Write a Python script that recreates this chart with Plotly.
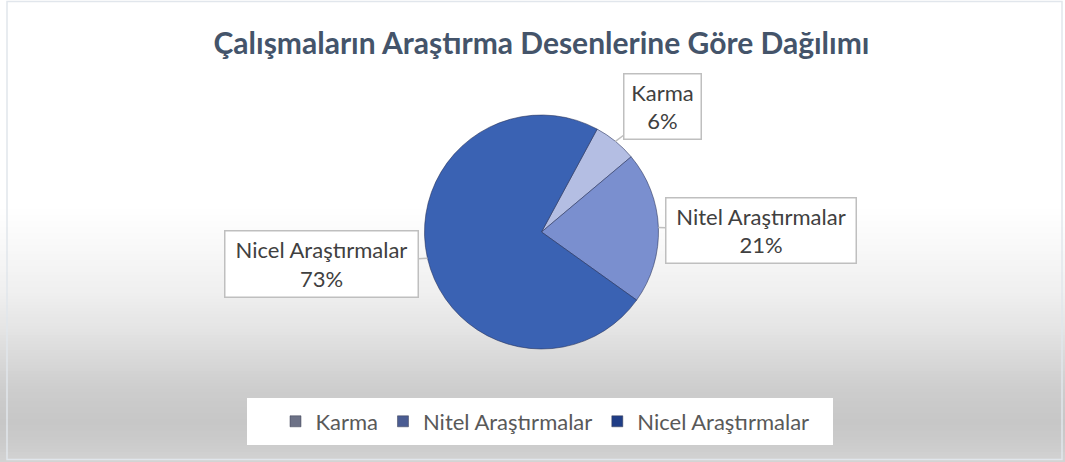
import math
import plotly.graph_objects as go

# ---- data ----
categories = ["Karma", "Nitel Araştırmalar", "Nicel Araştırmalar"]
values = [6, 21, 73]
title_text = "Çalışmaların Araştırma Desenlerine Göre Dağılımı"

# ---- style ----
W, H = 1065, 462
slice_colors = ["#b4bee3", "#7a8fcf", "#3a62b3"]
legend_colors = ["#6d7287", "#4a5c92", "#1f3d86"]
FONT = "Lato"
TEXT_COL = "#404040"
ROT = 28.4
CX, CY, R = 541.5, 232.0, 117.0
# label box centres (px) and sizes
boxes = [(662, 106.5, 79, 67), (761, 230, 192, 67), (321.5, 263.5, 195, 68)]


def px(x):
    return x / W


def py(y):
    return 1 - y / H


fig = go.Figure()

fig.add_trace(go.Pie(
    labels=categories, values=values, sort=False, direction="clockwise",
    rotation=ROT, textinfo="none", hoverinfo="label+percent",
    marker=dict(colors=slice_colors, line=dict(color="rgba(35,45,85,0.55)", width=1)),
    domain=dict(x=[px(CX - R), px(CX + R)], y=[py(CY + R), py(CY - R)]),
    showlegend=False,
))

for name, col in zip(categories, legend_colors):
    fig.add_trace(go.Scatter(
        x=[None], y=[None], mode="markers", name=name,
        marker=dict(symbol="square", size=11, color=col,
                    line=dict(color="#3a3f52", width=0.5)),
    ))

# gradient background
stops = [(0, 255), (205, 255), (237, 250), (263, 245), (290, 240), (303, 236),
         (330, 228), (360, 216), (390, 205), (420, 199), (435, 201), (447, 205),
         (462, 211)]
shapes = []
step = 3
y = 200
while y < H:
    yc = y + step / 2
    for (y0, g0), (y1, g1) in zip(stops[:-1], stops[1:]):
        if y0 <= yc <= y1:
            g = g0 + (g1 - g0) * (yc - y0) / (y1 - y0)
            break
    else:
        g = stops[-1][1]
    g = int(round(g))
    shapes.append(dict(type="rect", xref="paper", yref="paper", layer="below",
                       x0=0, x1=1, y0=py(min(y + step, H)), y1=py(y),
                       fillcolor=f"rgb({g},{g},{g})", line=dict(width=0)))
    y += step
# outer border
shapes.append(dict(type="rect", xref="paper", yref="paper", layer="below",
                   x0=px(7), x1=px(1062), y0=py(459.5), y1=py(1.5),
                   fillcolor="rgba(0,0,0,0)", line=dict(color="#e1e6ec", width=1.5)))
# legend box
shapes.append(dict(type="rect", xref="paper", yref="paper", layer="below",
                   x0=px(247), x1=px(833), y0=py(445), y1=py(398),
                   fillcolor="white", line=dict(width=0)))

# callout labels
total = sum(values)
annotations = []
start = ROT
for name, v, (bx, by, bw, bh) in zip(categories, values, boxes):
    span = v / total * 360
    mid = math.radians(start + span / 2)
    start += span
    tx = CX + R * math.sin(mid)
    ty = CY - R * math.cos(mid)
    annotations.append(dict(
        x=px(tx), y=py(ty), xref="paper", yref="paper",
        text=f"{name}<br>{round(v / total * 100)}%",
        showarrow=True, arrowhead=0, arrowwidth=1.5, arrowcolor="#bfbfbf",
        ax=bx - tx, ay=by - ty, axref="pixel", ayref="pixel",
        bgcolor="white", bordercolor="#bfbfbf", borderwidth=1.5, borderpad=0,
        width=bw - 3, height=bh - 3, align="center", valign="middle",
        font=dict(family=FONT, size=22, color=TEXT_COL),
    ))

fig.update_layout(
    width=W, height=H, margin=dict(l=0, r=0, t=0, b=0),
    paper_bgcolor="white", plot_bgcolor="rgba(0,0,0,0)",
    xaxis=dict(visible=False), yaxis=dict(visible=False),
    shapes=shapes, annotations=annotations,
    title=dict(text=f"<b>{title_text}</b>", x=px(541.5), xanchor="center",
               y=py(43), yanchor="middle", yref="paper",
               font=dict(family=FONT, size=30, color="#44546a")),
    legend=dict(orientation="h", x=px(545), xanchor="center", y=py(421.5),
                yanchor="middle", bgcolor="rgba(0,0,0,0)",
                font=dict(family=FONT, size=22, color="#595959")),
)

fig.write_html("out.html")
